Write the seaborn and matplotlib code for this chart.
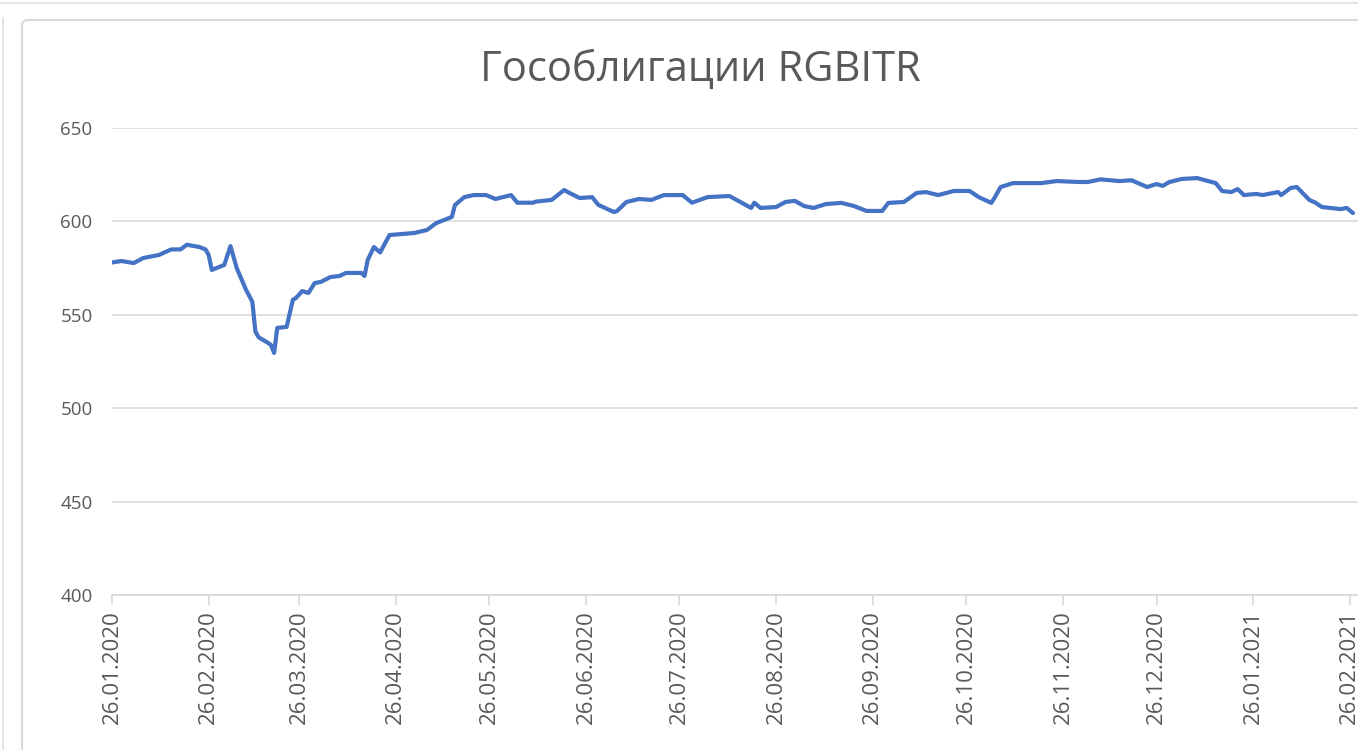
import pandas as pd
import seaborn as sns
import matplotlib.pyplot as plt
import matplotlib.dates as mdates
from matplotlib.lines import Line2D
from matplotlib.patches import FancyBboxPatch

title = "Гособлигации RGBITR"

dates = [
    "2020-01-26", "2020-01-29", "2020-02-02", "2020-02-05", "2020-02-10", "2020-02-14",
    "2020-02-17", "2020-02-19", "2020-02-23", "2020-02-25", "2020-02-26", "2020-02-27",
    "2020-03-02", "2020-03-04", "2020-03-06", "2020-03-09", "2020-03-11", "2020-03-12",
    "2020-03-13", "2020-03-16", "2020-03-17", "2020-03-18", "2020-03-19", "2020-03-22",
    "2020-03-24", "2020-03-25", "2020-03-27", "2020-03-29", "2020-03-31", "2020-04-02",
    "2020-04-05", "2020-04-08", "2020-04-10", "2020-04-15", "2020-04-16", "2020-04-17",
    "2020-04-19", "2020-04-21", "2020-04-24", "2020-05-02", "2020-05-06", "2020-05-09",
    "2020-05-14", "2020-05-15", "2020-05-18", "2020-05-21", "2020-05-25", "2020-05-28",
    "2020-06-02", "2020-06-04", "2020-06-09", "2020-06-10", "2020-06-15", "2020-06-19",
    "2020-06-21", "2020-06-24", "2020-06-28", "2020-06-30", "2020-07-05", "2020-07-06",
    "2020-07-09", "2020-07-13", "2020-07-17", "2020-07-21", "2020-07-27", "2020-07-30",
    "2020-08-04", "2020-08-11", "2020-08-18", "2020-08-19", "2020-08-21", "2020-08-26",
    "2020-08-29", "2020-09-01", "2020-09-04", "2020-09-07", "2020-09-11", "2020-09-16",
    "2020-09-20", "2020-09-24", "2020-09-29", "2020-10-01", "2020-10-06", "2020-10-10",
    "2020-10-13", "2020-10-17", "2020-10-22", "2020-10-27", "2020-10-30", "2020-11-03",
    "2020-11-04", "2020-11-06", "2020-11-10", "2020-11-19", "2020-11-24", "2020-12-01",
    "2020-12-04", "2020-12-08", "2020-12-14", "2020-12-18", "2020-12-23", "2020-12-26",
    "2020-12-28", "2020-12-30", "2021-01-03", "2021-01-08", "2021-01-14", "2021-01-16",
    "2021-01-19", "2021-01-21", "2021-01-23", "2021-01-27", "2021-01-29", "2021-02-03",
    "2021-02-04", "2021-02-07", "2021-02-09", "2021-02-13", "2021-02-15", "2021-02-17",
    "2021-02-23", "2021-02-25", "2021-02-27",
]
values = [
    578.0, 578.8, 577.7, 580.4, 582.0, 585.0,
    585.0, 587.5, 586.3, 585.0, 582.0, 574.0,
    576.7, 586.8, 575.0, 563.3, 557.0, 541.0,
    538.0, 535.0, 533.8, 529.6, 543.0, 543.5,
    558.0, 559.0, 562.7, 561.7, 567.0, 567.6,
    570.2, 570.8, 572.4, 572.4, 570.8, 579.3,
    586.3, 583.4, 592.7, 593.8, 595.4, 599.1,
    602.4, 608.8, 613.0, 614.1, 614.1, 612.0,
    614.1, 610.0, 610.0, 610.6, 611.5, 616.8,
    615.0, 612.5, 613.0, 608.8, 605.0, 605.6,
    610.4, 612.0, 611.5, 614.1, 614.1, 610.0,
    613.0, 613.6, 607.2, 610.0, 607.2, 607.7,
    610.4, 611.0, 608.2, 607.2, 609.3, 609.9,
    608.2, 605.6, 605.6, 609.9, 610.4, 615.2,
    615.7, 614.1, 616.3, 616.3, 613.0, 609.9,
    612.5, 618.4, 620.5, 620.5, 621.6, 621.1,
    621.1, 622.5, 621.6, 622.0, 618.4, 620.0,
    619.0, 621.0, 622.7, 623.2, 620.5, 616.3,
    615.7, 617.3, 614.1, 614.7, 614.1, 615.7,
    614.1, 617.9, 618.4, 611.5, 610.0, 607.7,
    606.6, 607.2, 604.5,
]

y_ticks = [400, 450, 500, 550, 600, 650]

W, H = 1358, 750
df = pd.DataFrame({"date": pd.to_datetime(dates), "value": values})

sns.set_style("white")
plt.rcParams["font.family"] = ["Open Sans", "DejaVu Sans"]

fig = plt.figure(figsize=(W / 100, H / 100), dpi=100)

# outer frames of the screenshot
fig.add_artist(Line2D([0, 1], [1 - 3 / H, 1 - 3 / H], color="#e4e4e4", lw=1.5))
fig.add_artist(Line2D([3 / W, 3 / W], [0, 1 - 18 / H], color="#e4e4e4", lw=1.5))
fig.add_artist(FancyBboxPatch((22 / W, -0.1), 1.1, 1.1 - 20 / H,
                              boxstyle="round,pad=0,rounding_size=0.006",
                              transform=fig.transFigure, facecolor="white",
                              edgecolor="#d9d9d9", lw=1.5, zorder=0))

left = 112 / W
bottom = 1 - 595 / H
top = 1 - 128 / H
ax = fig.add_axes([left, bottom, 1 - left, top - bottom])
ax.patch.set_alpha(0)

sns.lineplot(data=df, x="date", y="value", color="#4472C4", linewidth=3.0, ax=ax)

start = pd.Timestamp("2020-01-26")
ax.set_xlim(start, start + pd.Timedelta(days=(W - 112) / 3.118))
ax.set_ylim(400, 650)
ax.set_yticks(y_ticks)
ax.grid(axis="y", color="#d9d9d9", lw=1.2)
ax.grid(axis="x", visible=False)

ax.xaxis.set_major_locator(mdates.MonthLocator(bymonthday=26))
ax.xaxis.set_major_formatter(mdates.DateFormatter("%d.%m.%Y"))
ax.tick_params(axis="x", rotation=90, labelsize=16, colors="#595959",
               length=7, width=1.2, color="#d9d9d9", pad=4, bottom=True)
ax.tick_params(axis="y", labelsize=13.5, colors="#595959", length=0, pad=14)

for s in ["top", "right", "left"]:
    ax.spines[s].set_visible(False)
ax.spines["bottom"].set_color("#d9d9d9")
ax.spines["bottom"].set_linewidth(1.2)
ax.set_xlabel("")
ax.set_ylabel("")

fig.text(700 / W, 1 - 70 / H, title, ha="center", va="center",
         fontsize=30, color="#595959")

fig.savefig("out.png", dpi=100)
